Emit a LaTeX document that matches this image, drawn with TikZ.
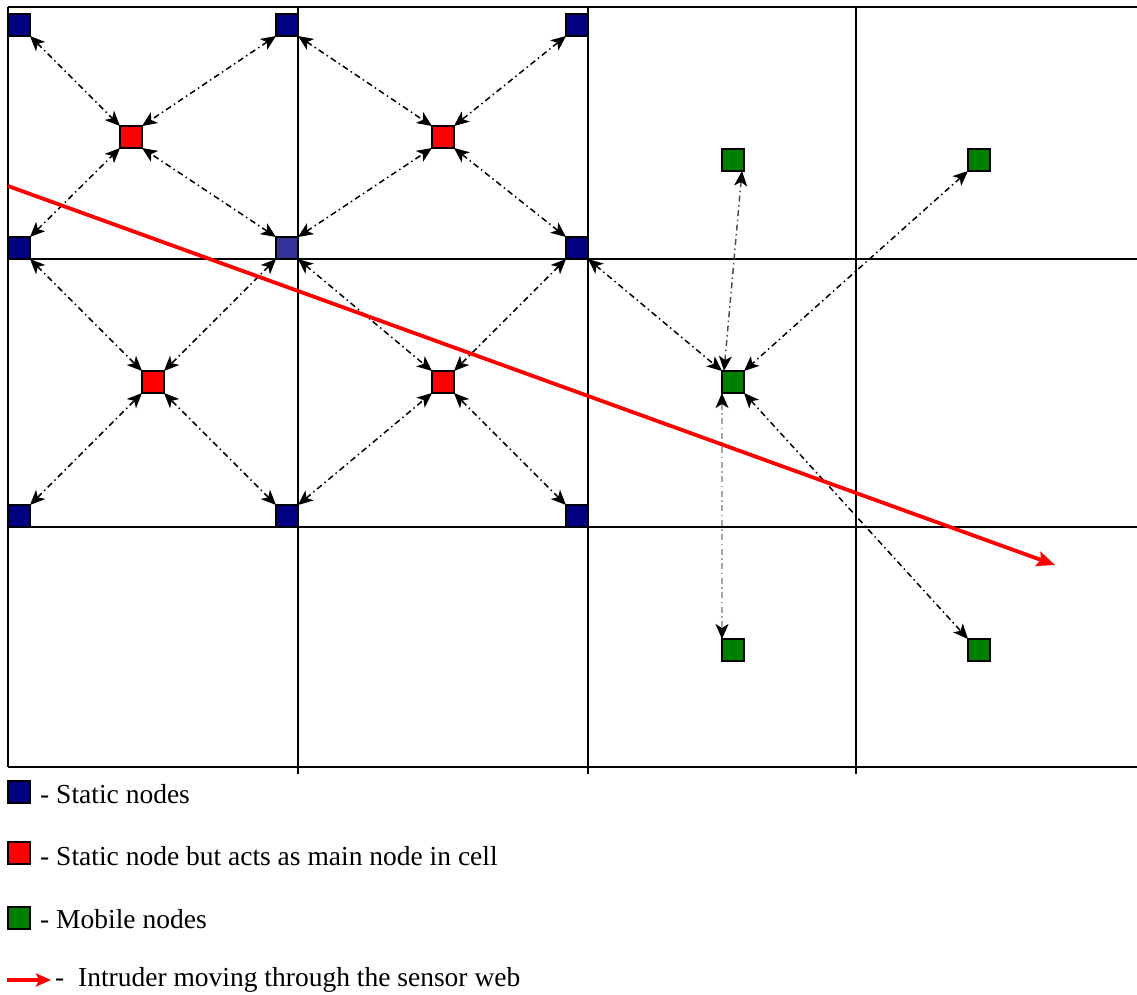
\documentclass[tikz,border=0pt]{standalone}
\usepackage{fontspec}
\setmainfont{Liberation Serif}
\usetikzlibrary{arrows.meta}
\definecolor{navyblue}{HTML}{000080}
\definecolor{midblue}{HTML}{333399}
\definecolor{nodegreen}{HTML}{008000}
\begin{document}
\begin{tikzpicture}[x=1pt,y=-1pt,
  sq/.style={draw=black,line width=1.3pt,minimum size=22pt,inner sep=0pt,outer sep=0pt},
  stat/.style={sq,fill=navyblue},
  mainn/.style={sq,fill=red},
  mob/.style={sq,fill=nodegreen},
  link/.style={line width=1.5pt,dash pattern=on 6pt off 3.5pt on 1.5pt off 3.5pt,
    {Stealth[length=15pt,width=13pt,inset=4pt,color=black]}-{Stealth[length=15pt,width=13pt,inset=4pt,color=black]}},
  gridline/.style={line width=1.4pt,black},
  legtext/.style={anchor=west,inner sep=0pt,font=\fontsize{27.5}{32}\selectfont}]
\useasboundingbox (0,0) rectangle (1137,994);
% grid
\draw[gridline] (8,7) -- (1137,7);
\draw[gridline] (8,259) -- (1137,259);
\draw[gridline] (8,527) -- (1137,527);
\draw[gridline] (8,767) -- (1137,767);
\draw[gridline] (8,7) -- (8,767);
\draw[gridline] (298,7) -- (298,774);
\draw[gridline] (588,7) -- (588,774);
\draw[gridline] (856,7) -- (856,774);
% static nodes
\node[stat] (b11) at (19,25) {};
\node[stat] (b12) at (287,25) {};
\node[stat] (b13) at (577,25) {};
\node[stat] (b21) at (19,248) {};
\node[sq,fill=midblue] (b22) at (287,248) {};
\node[stat] (b23) at (577,248) {};
\node[stat] (b31) at (19,516) {};
\node[stat] (b32) at (287,516) {};
\node[stat] (b33) at (577,516) {};
% main nodes
\node[mainn] (r1) at (131,137) {};
\node[mainn] (r2) at (443,137) {};
\node[mainn] (r3) at (153,382) {};
\node[mainn] (r4) at (443,382) {};
% mobile nodes
\node[mob] (gT) at (733,160) {};
\node[mob] (gTR) at (979,160) {};
\node[mob] (gC) at (733,382) {};
\node[mob] (gB) at (733,650) {};
\node[mob] (gBR) at (979,650) {};
% links cell 1
\draw[link] (b11.south east) -- (r1.north west);
\draw[link] (b12.south west) -- (r1.north east);
\draw[link] (b21.north east) -- (r1.south west);
\draw[link] (b22.north west) -- (r1.south east);
% cell 2
\draw[link] (b12.south east) -- (r2.north west);
\draw[link] (b13.south west) -- (r2.north east);
\draw[link] (b22.north east) -- (r2.south west);
\draw[link] (b23.north west) -- (r2.south east);
% cell 3
\draw[link] (b21.south east) -- (r3.north west);
\draw[link] (b22.south west) -- (r3.north east);
\draw[link] (b31.north east) -- (r3.south west);
\draw[link] (b32.north west) -- (r3.south east);
% cell 4
\draw[link] (b22.south east) -- (r4.north west);
\draw[link] (b23.south west) -- (r4.north east);
\draw[link] (b32.north east) -- (r4.south west);
\draw[link] (b33.north west) -- (r4.south east);
% mobile links
\draw[link] (b23.south east) -- (gC.north west);
\draw[link,draw=black!70] ([xshift=2pt]gC.north west) -- ([xshift=-2pt]gT.south east);
\draw[link] (gTR.south west) -- (gC.north east);
\draw[link,draw=black!35] (gC.south west) -- (gB.north west);
\draw[link] (gC.south east) -- (gBR.north west);
% intruder
\coordinate (iS) at (8,186);
\coordinate (iE) at (1055,565);
\draw[red,line width=3.8pt,-{Stealth[length=18pt,width=15pt,inset=3pt]}] (iS) -- (iE);
% legend
\node[stat] (lb) at (19,792) {};
\node[legtext] (lbt) at (40,794) {- Static nodes};
\node[mainn] (lr) at (19,853) {};
\node[legtext] (lrt) at (40,856) {- Static node but acts as main node in cell};
\node[mob] (lg) at (19,918) {};
\node[legtext] (lgt) at (40,919) {- Mobile nodes};
\coordinate (la) at (7,980);
\coordinate (lae) at (51,980);
\draw[red,line width=3.2pt,-{Stealth[length=15pt,width=13pt,inset=3pt]}] (la) -- (lae);
\node[legtext] (lat) at (55,980) {-\ \ Intruder moving through the sensor web};
\end{tikzpicture}
\end{document}
